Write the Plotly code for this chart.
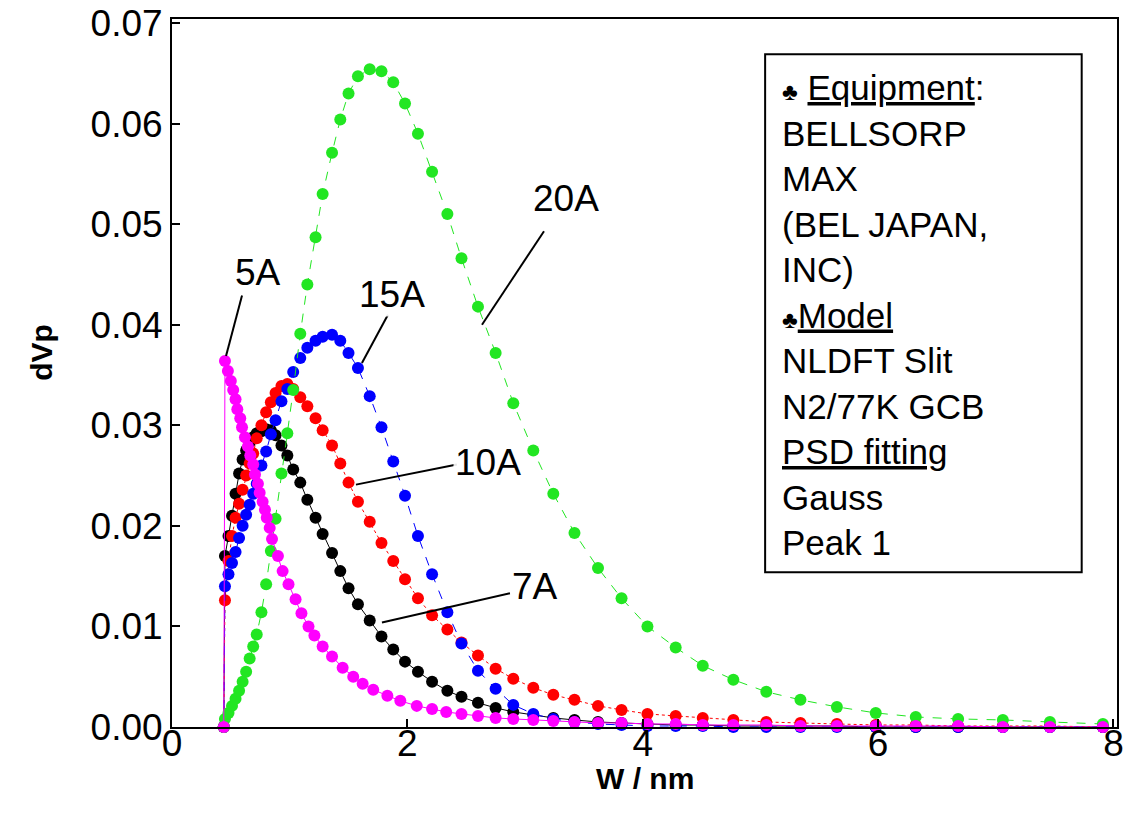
import plotly.graph_objects as go

# Shared pore-width grid (nm) for 7A, 10A, 15A, 20A
W_GRID = [0.44, 0.45, 0.48, 0.51, 0.54, 0.57, 0.60, 0.63, 0.66, 0.69, 0.72, 0.76, 0.80, 0.84,
          0.88, 0.93, 0.98, 1.03, 1.09, 1.15, 1.22, 1.28, 1.36, 1.43, 1.50, 1.58, 1.68, 1.78,
          1.88, 1.98, 2.09, 2.21, 2.34, 2.46, 2.60, 2.75, 2.90, 3.07, 3.24, 3.42, 3.62, 3.82,
          4.04, 4.28, 4.51, 4.77, 5.05, 5.34, 5.65, 5.98, 6.32, 6.68, 7.06, 7.46, 7.91]

DVP_7A = [0.0, 0.0170, 0.0190, 0.0210, 0.0232, 0.0252, 0.0266, 0.0275, 0.0283, 0.0288, 0.0292,
          0.0294, 0.0296, 0.0295, 0.0290, 0.0280, 0.0270, 0.0256, 0.0243, 0.0226, 0.0208, 0.0192,
          0.0173, 0.0155, 0.0138, 0.0122, 0.0106, 0.0090, 0.0077, 0.0065, 0.0055, 0.0045, 0.0036,
          0.0030, 0.0024, 0.0019, 0.0015, 0.0012, 0.0009, 0.0007, 0.0005, 0.0004, 0.0003, 0.0002,
          0.0002, 0.0001, 0.0001, 0.0001, 0.0001, 0.0, 0.0, 0.0, 0.0, 0.0, 0.0]

DVP_10A = [0.0, 0.0126, 0.0165, 0.0190, 0.0208, 0.0222, 0.0236, 0.0250, 0.0262, 0.0272, 0.0287,
           0.0300, 0.0313, 0.0323, 0.0332, 0.0339, 0.0341, 0.0336, 0.0328, 0.0319, 0.0307, 0.0295,
           0.0280, 0.0262, 0.0243, 0.0224, 0.0204, 0.0183, 0.0165, 0.0147, 0.0128, 0.0111, 0.0097,
           0.0084, 0.0071, 0.0058, 0.0048, 0.0039, 0.0032, 0.0027, 0.0021, 0.0017, 0.0013, 0.0011,
           0.0009, 0.0007, 0.0005, 0.0004, 0.0003, 0.0002, 0.0002, 0.0001, 0.0001, 0.0001, 0.0]

DVP_15A = [0.0, 0.0140, 0.0152, 0.0163, 0.0174, 0.0188, 0.0200, 0.0211, 0.0221, 0.0232, 0.0242,
           0.0260, 0.0274, 0.0291, 0.0305, 0.0324, 0.0336, 0.0353, 0.0367, 0.0377, 0.0384, 0.0388,
           0.0390, 0.0384, 0.0372, 0.0357, 0.0329, 0.0298, 0.0264, 0.0230, 0.0190, 0.0152, 0.0114,
           0.0083, 0.0056, 0.0038, 0.0022, 0.0013, 0.0008, 0.0005, 0.0003, 0.0002, 0.0001, 0.0001,
           0.0001, 0.0, 0.0, 0.0, 0.0, 0.0, 0.0, 0.0, 0.0, 0.0, 0.0]

DVP_20A = [0.0, 0.0008, 0.0014, 0.0021, 0.0028, 0.0036, 0.0045, 0.0055, 0.0068, 0.0080, 0.0092,
           0.0114, 0.0142, 0.0175, 0.0207, 0.0252, 0.0292, 0.0335, 0.0391, 0.0440, 0.0487, 0.0530,
           0.0571, 0.0604, 0.0630, 0.0647, 0.0654, 0.0652, 0.0641, 0.0620, 0.0590, 0.0552, 0.0510,
           0.0466, 0.0418, 0.0372, 0.0322, 0.0275, 0.0232, 0.0193, 0.0158, 0.0128, 0.0100, 0.0079,
           0.0061, 0.0047, 0.0035, 0.0027, 0.0020, 0.0014, 0.0010, 0.0008, 0.0007, 0.0005, 0.0003]

# 5A series has its own (denser) sampling at small widths
W_5A = [0.44, 0.45, 0.475, 0.50, 0.52, 0.54, 0.555, 0.58, 0.595, 0.62, 0.645, 0.665, 0.69, 0.705,
        0.73, 0.745, 0.77, 0.79, 0.805, 0.83, 0.85, 0.90, 0.94, 0.99, 1.05, 1.10, 1.16, 1.21,
        1.28, 1.36, 1.45, 1.54, 1.62, 1.71, 1.83, 1.94, 2.08, 2.21, 2.33, 2.46, 2.60, 2.75,
        2.90, 3.07, 3.24, 3.42, 3.62, 3.82, 4.04, 4.28, 4.51, 4.77, 5.05, 5.34, 5.65, 5.98,
        6.32, 6.68, 7.06, 7.46, 7.91]
DVP_5A = [0.0, 0.0364, 0.0354, 0.0344, 0.0335, 0.0326, 0.0316, 0.0307, 0.0298, 0.0288, 0.0279,
          0.0270, 0.0261, 0.0251, 0.0242, 0.0233, 0.0224, 0.0216, 0.0208, 0.0198, 0.0187, 0.0170,
          0.0155, 0.0142, 0.0127, 0.0113, 0.0100, 0.0091, 0.0080, 0.0070, 0.0059, 0.0050, 0.0043,
          0.0037, 0.0031, 0.0026, 0.0021, 0.0018, 0.0015, 0.0013, 0.0011, 0.0009, 0.0008, 0.0007,
          0.0006, 0.0005, 0.0004, 0.0004, 0.0003, 0.0003, 0.0002, 0.0002, 0.0002, 0.0001, 0.0001,
          0.0001, 0.0001, 0.0001, 0.0, 0.0, 0.0]

X_TICKS = [0, 2, 4, 6, 8]
Y_TICKS = [0.00, 0.01, 0.02, 0.03, 0.04, 0.05, 0.06, 0.07]

INFO_LINES = ["<span style='font-size:24px'>♣</span> <u>Equipment</u>:",
              "BELLSORP", "MAX", "(BEL JAPAN,", "INC)",
              "<span style='font-size:24px'>♣</span><u>Model</u>",
              "NLDFT Slit", "N2/77K GCB", "<u>PSD fitting</u>", "Gauss", "Peak 1"]

FONT = "Arial, Liberation Sans, sans-serif"

series = [
    ("7A", W_GRID, DVP_7A, "#000000", "solid"),
    ("10A", W_GRID, DVP_10A, "#FF0000", "dot"),
    ("15A", W_GRID, DVP_15A, "#0000FF", "dash"),
    ("20A", W_GRID, DVP_20A, "#22E622", "dash"),
    ("5A", W_5A, DVP_5A, "#FF00FF", "solid"),
]

fig = go.Figure()
for name, xs, ys, col, dash in series:
    fig.add_trace(go.Scatter(
        x=xs, y=ys, mode="lines+markers", name=name,
        line=dict(color=col, width=1, dash=dash),
        marker=dict(color=col, size=12, line=dict(width=0)),
        showlegend=False, cliponaxis=False,
    ))

# Label annotations with leader lines
labels = [
    ("5A", 0.731, 0.0452, (0.595, 0.0429, 0.459, 0.0369)),
    ("15A", 1.869, 0.0430, (1.835, 0.0410, 1.614, 0.0362)),
    ("20A", 3.348, 0.0526, (3.161, 0.0493, 2.634, 0.0400)),
    ("10A", 2.685, 0.0263, (2.421, 0.0261, 1.563, 0.0241)),
    ("7A", 3.084, 0.0140, (2.872, 0.0133, 1.784, 0.0104)),
]
for txt, tx, ty, (x0, y0, x1, y1) in labels:
    fig.add_shape(type="line", x0=x0, y0=y0, x1=x1, y1=y1,
                  line=dict(color="black", width=2), layer="above")
    fig.add_annotation(x=tx, y=ty, text=txt, showarrow=False,
                       font=dict(family=FONT, size=37, color="black"),
                       bgcolor="rgba(255,255,255,0.9)")

# Info box
fig.add_shape(type="rect", x0=5.04, x1=7.73, y0=0.0154, y1=0.0669,
              line=dict(color="black", width=2), fillcolor="white", layer="above")
fig.add_annotation(x=5.166, y=0.0410, xanchor="left", yanchor="middle", align="left",
                   text="<br>".join(INFO_LINES), showarrow=False,
                   font=dict(family=FONT, size=35, color="black"))

# Axis titles as annotations (placed close to the tick labels as in the original)
fig.add_annotation(xref="paper", yref="paper", x=0.5, y=-0.073, yanchor="middle",
                   text="<b>W / nm</b>", showarrow=False,
                   font=dict(family=FONT, size=30, color="black"))
fig.add_annotation(xref="paper", yref="paper", x=-0.1376, y=0.53, xanchor="center",
                   yanchor="middle", textangle=-90,
                   text="<b>dVp</b>", showarrow=False,
                   font=dict(family=FONT, size=30, color="black"))

fig.update_layout(
    width=1129, height=824,
    margin=dict(l=172, r=12, t=19, b=97),
    paper_bgcolor="white", plot_bgcolor="white",
    font=dict(family=FONT, color="black"),
)
fig.update_xaxes(
    range=[0, 8.03], tickvals=X_TICKS, ticktext=[str(v) for v in X_TICKS],
    ticks="inside", ticklen=8, tickwidth=2, tickcolor="black",
    showline=True, linecolor="black", linewidth=2, mirror=True,
    showgrid=False, zeroline=False, automargin=False,
    tickfont=dict(family=FONT, size=37), ticklabelstandoff=-17,
    ticklabeloverflow="allow",
)
fig.update_yaxes(
    range=[0, 0.0704], tickvals=Y_TICKS, ticktext=[f"{v:.2f}" for v in Y_TICKS],
    ticks="inside", ticklen=8, tickwidth=2, tickcolor="black",
    showline=True, linecolor="black", linewidth=2, mirror=True,
    showgrid=False, zeroline=False, automargin=False,
    tickfont=dict(family=FONT, size=37), ticklabeloverflow="allow",
)

# remove the default 8px page margin so the figure fills the window exactly
fig.write_html("out.html", config={"displayModeBar": False},
               post_script="document.body.style.margin='0';")
